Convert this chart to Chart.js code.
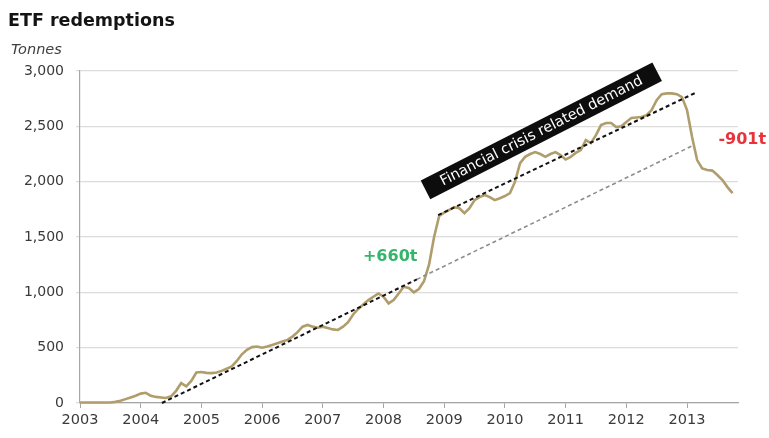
<!DOCTYPE html>
<html>
<head>
<meta charset="utf-8">
<script src="https://cdn.jsdelivr.net/npm/chart.js@4"></script>
<style>
  html, body { margin: 0; padding: 0; background: #ffffff; }
  #wrap { width: 769px; height: 438px; position: relative; }
</style>
</head>
<body>
<div id="wrap"><canvas id="chart" width="769" height="438"></canvas></div>
<script>
// Gold ETF holdings, tonnes, monthly from January 2003
const firstYear = 2003;
const etfHoldings = [
  5, 5, 5, 5, 5, 5, 5, 10, 20, 35, 50, 65,                          // 2003
  85, 92, 65, 55, 50, 45, 60, 110, 180, 150, 200, 275,               // 2004
  280, 272, 270, 275, 290, 310, 330, 380, 440, 480, 505, 510,        // 2005
  500, 510, 525, 540, 555, 570, 600, 640, 690, 705, 690, 680,        // 2006
  690, 678, 665, 660, 690, 730, 800, 850, 890, 930, 960, 990,        // 2007
  960, 900, 930, 990, 1050, 1040, 1000, 1030, 1100, 1250, 1500, 1690, // 2008
  1720, 1745, 1770, 1760, 1716, 1760, 1833, 1860, 1880, 1860, 1833, 1850, // 2009
  1870, 1897, 2000, 2168, 2224, 2250, 2267, 2250, 2224, 2250, 2267, 2240, // 2010
  2200, 2224, 2260, 2285, 2376, 2349, 2420, 2511, 2530, 2530, 2493, 2500, // 2011
  2540, 2575, 2580, 2584, 2600, 2647, 2737, 2790, 2798, 2798, 2790, 2764, // 2012
  2647, 2403, 2195, 2120, 2105, 2100, 2060, 2015, 1951, 1897              // 2013
];

// Trend lines: [year, tonnes] end points
const preCrisisTrend = [[2004.35, 0], [2008.55, 1117]];
const preCrisisExtension = [[2008.55, 1117], [2013.08, 2322]];
const crisisTrend = [[2008.9, 1698], [2013.13, 2800]];

// Axis ticks
const yearLabels = [2003, 2004, 2005, 2006, 2007, 2008, 2009, 2010, 2011, 2012, 2013];
const tonneTicks = [0, 500, 1000, 1500, 2000, 2500, 3000];

// Annotations
const crisisNote = { text: 'Financial crisis related demand', year: 2010.6, tonnes: 2460 };
const inflowNote = { text: '+660t', year: 2008.11, tonnes: 1319 };
const outflowNote = { text: '-901t', year: 2013.91, tonnes: 2376 };

const holdingsPoints = etfHoldings.map((v, i) => ({ x: firstYear + i / 12, y: v }));
const toPoints = pairs => pairs.map(([x, y]) => ({ x, y }));

const FONT = '"DejaVu Sans", "Liberation Sans", Arial, sans-serif';

const notesPlugin = {
  id: 'notes',
  afterDraw(chart) {
    const { ctx, scales: { x, y } } = chart;
    ctx.save();
    // heading and unit
    ctx.fillStyle = '#141414';
    ctx.font = 'bold 17.5px ' + FONT;
    ctx.textAlign = 'left';
    ctx.textBaseline = 'alphabetic';
    ctx.fillText('ETF redemptions', 8, 26);
    ctx.fillStyle = '#404040';
    ctx.font = 'italic 14.5px ' + FONT;
    ctx.fillText('Tonnes', 11, 54);

    // rotated label box
    const cx = x.getPixelForValue(crisisNote.year);
    const cy = y.getPixelForValue(crisisNote.tonnes);
    ctx.save();
    ctx.translate(cx, cy);
    ctx.rotate(-27 * Math.PI / 180);
    ctx.fillStyle = '#0d0d0d';
    ctx.fillRect(-130, -10.5, 260, 21);
    ctx.fillStyle = '#ffffff';
    ctx.font = '14.5px ' + FONT;
    ctx.textAlign = 'center';
    ctx.textBaseline = 'middle';
    ctx.fillText(crisisNote.text, 0, 0.5);
    ctx.restore();

    // flow labels
    ctx.font = 'bold 16px ' + FONT;
    ctx.textAlign = 'center';
    ctx.textBaseline = 'middle';
    ctx.fillStyle = '#35b56c';
    ctx.fillText(inflowNote.text, x.getPixelForValue(inflowNote.year), y.getPixelForValue(inflowNote.tonnes));
    ctx.fillStyle = '#e8333b';
    ctx.fillText(outflowNote.text, x.getPixelForValue(outflowNote.year), y.getPixelForValue(outflowNote.tonnes));
    ctx.restore();
  }
};

new Chart(document.getElementById('chart'), {
  type: 'line',
  data: {
    datasets: [
      {
        label: 'Pre-crisis trend',
        data: toPoints(preCrisisTrend),
        borderColor: '#111111',
        borderWidth: 2,
        borderDash: [4, 3],
        pointRadius: 0,
        clip: false,
        order: 1
      },
      {
        label: 'Pre-crisis trend extended',
        data: toPoints(preCrisisExtension),
        borderColor: '#8c8c8c',
        borderWidth: 1.6,
        borderDash: [4, 3],
        pointRadius: 0,
        clip: false,
        order: 1
      },
      {
        label: 'Crisis trend',
        data: toPoints(crisisTrend),
        borderColor: '#111111',
        borderWidth: 2,
        borderDash: [4, 3],
        pointRadius: 0,
        clip: false,
        order: 0
      },
      {
        label: 'ETF holdings',
        data: holdingsPoints,
        borderColor: '#b09d6c',
        borderWidth: 2.6,
        pointRadius: 0,
        tension: 0,
        clip: false,
        order: 2
      }
    ]
  },
  options: {
    responsive: false,
    animation: false,
    devicePixelRatio: 1,
    layout: { padding: { top: 71, right: 31, left: 0, bottom: 0 } },
    plugins: {
      legend: { display: false },
      tooltip: { enabled: false },
      title: { display: false }
    },
    scales: {
      x: {
        type: 'linear',
        min: 2003,
        max: 2013.84,
        afterBuildTicks: s => { s.ticks = yearLabels.map(v => ({ value: v })); },
        afterFit: s => { s.height = 35; },
        grid: { drawOnChartArea: false, drawTicks: true, tickLength: 5, color: '#a6a6a6' },
        border: { display: true, color: '#a6a6a6', width: 1.2 },
        ticks: {
          padding: 4,
          maxRotation: 0,
          autoSkip: false,
          color: '#3a3a3a',
          font: { family: FONT, size: 14.5 },
          callback: v => String(v)
        }
      },
      y: {
        min: 0,
        max: 3000,
        afterBuildTicks: s => { s.ticks = tonneTicks.map(v => ({ value: v })); },
        afterFit: s => { s.width = 80; },
        grid: { color: '#dcdcdc', lineWidth: 1.2, drawTicks: true, tickLength: 4 },
        border: { display: true, color: '#a6a6a6', width: 1.2 },
        ticks: {
          padding: 12,
          color: '#3a3a3a',
          font: { family: FONT, size: 14 },
          callback: v => v.toLocaleString('en-US')
        }
      }
    }
  },
  plugins: [notesPlugin]
});
</script>
</body>
</html>
